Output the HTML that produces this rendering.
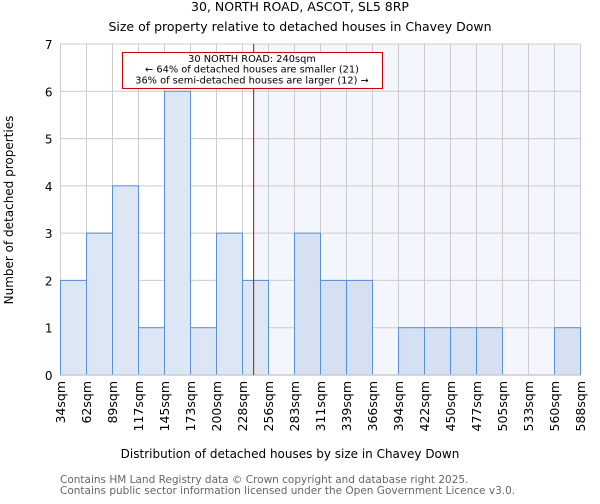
<!DOCTYPE html>
<html><head><meta charset="utf-8"><style>
body{margin:0;background:#fff;font-family:"DejaVu Sans","Liberation Sans",sans-serif;}
svg text{font-family:"DejaVu Sans","Liberation Sans",sans-serif;}
</style></head><body>
<svg id="chart" width="600" height="500" xmlns="http://www.w3.org/2000/svg">
<text x="300" y="11" text-anchor="middle" font-size="12.5">30, NORTH ROAD, ASCOT, SL5 8RP</text>
<text x="300" y="31" text-anchor="middle" font-size="12.5">Size of property relative to detached houses in Chavey Down</text>
<g id="plot"></g>
<text x="290" y="458" text-anchor="middle" font-size="12">Distribution of detached houses by size in Chavey Down</text>
<text transform="translate(13,210) rotate(-90)" text-anchor="middle" font-size="12">Number of detached properties</text>
<text x="60" y="483" font-size="10.5" fill="#666">Contains HM Land Registry data © Crown copyright and database right 2025.</text>
<text x="60" y="494" font-size="10.5" fill="#666">Contains public sector information licensed under the Open Government Licence v3.0.</text>
</svg>
<script>
const tickLabels=["34sqm","62sqm","89sqm","117sqm","145sqm","173sqm","200sqm","228sqm","256sqm","283sqm","311sqm","339sqm","366sqm","394sqm","422sqm","450sqm","477sqm","505sqm","533sqm","560sqm","588sqm"];
const binStarts=[34,62,89,117,145,173,200,228,256,283,311,339,366,394,422,450,477,505,533,560,588];
const counts=[2,3,4,1,6,1,3,2,0,3,2,2,0,1,1,1,1,0,0,1];
const yTicks=[0,1,2,3,4,5,6,7];
const propertySize=240;
const x0=60.5,x1=580.5,yTop=44,yBot=375,yMax=7;
const nb=counts.length,bw=(x1-x0)/nb;
function xIdx(i){return x0+i*bw;}
function xVal(v){let i=0;while(i<binStarts.length-2&&v>binStarts[i+1])i++;return xIdx(i+(v-binStarts[i])/(binStarts[i+1]-binStarts[i]));}
function y(v){return yBot-(yBot-yTop)*v/yMax;}
const NS="http://www.w3.org/2000/svg",g=document.getElementById('plot');
function mk(t,a){const e=document.createElementNS(NS,t);for(const k in a)e.setAttribute(k,a[k]);g.appendChild(e);return e;}
const lx=xVal(propertySize);
let e=mk('rect',{x:lx,y:yTop,width:x1-lx,height:yBot-yTop,fill:'#f3f6fc'});


for(let i=0;i<=nb;i++){e=mk('line',{x1:xIdx(i),x2:xIdx(i),y1:yTop,y2:yBot,stroke:'#ccc','stroke-width':1});

}
yTicks.forEach(t=>{e=mk('line',{x1:x0,x2:x1,y1:y(t),y2:y(t),stroke:'#ccc','stroke-width':1});


e=mk('text',{x:x0-8,y:y(t)+5,'text-anchor':'end','font-size':12});e.textContent=t;

});
counts.forEach((c,i)=>{if(!c)return;const right=xIdx(i)>=lx;
e=mk('rect',{x:xIdx(i),y:y(c),width:bw,height:yBot-y(c),fill:right?'#d5e0f2':'#dde6f4',stroke:'#5b8fd6','stroke-width':1});

});
tickLabels.forEach((l,i)=>{const tx=xIdx(i)+4.5;
e=mk('text',{transform:`translate(${tx},381) rotate(-90)`,'text-anchor':'end','font-size':12.5});e.textContent=l;

});
e=mk('line',{x1:x0,x2:x1,y1:yBot,y2:yBot,stroke:'#ccc','stroke-width':1.5});


e=mk('line',{x1:lx,x2:lx,y1:yTop,y2:yBot,stroke:'#c00','stroke-width':1});


e=mk('rect',{x:122.5,y:52.5,width:260,height:36,fill:'#fff',stroke:'#c00','stroke-width':1});


["30 NORTH ROAD: 240sqm","← 64% of detached houses are smaller (21)","36% of semi-detached houses are larger (12) →"].forEach((s,i)=>{
e=mk('text',{x:252,y:62+i*10.7,'text-anchor':'middle','font-size':9.8});e.textContent=s;

});
</script>
</body></html>
